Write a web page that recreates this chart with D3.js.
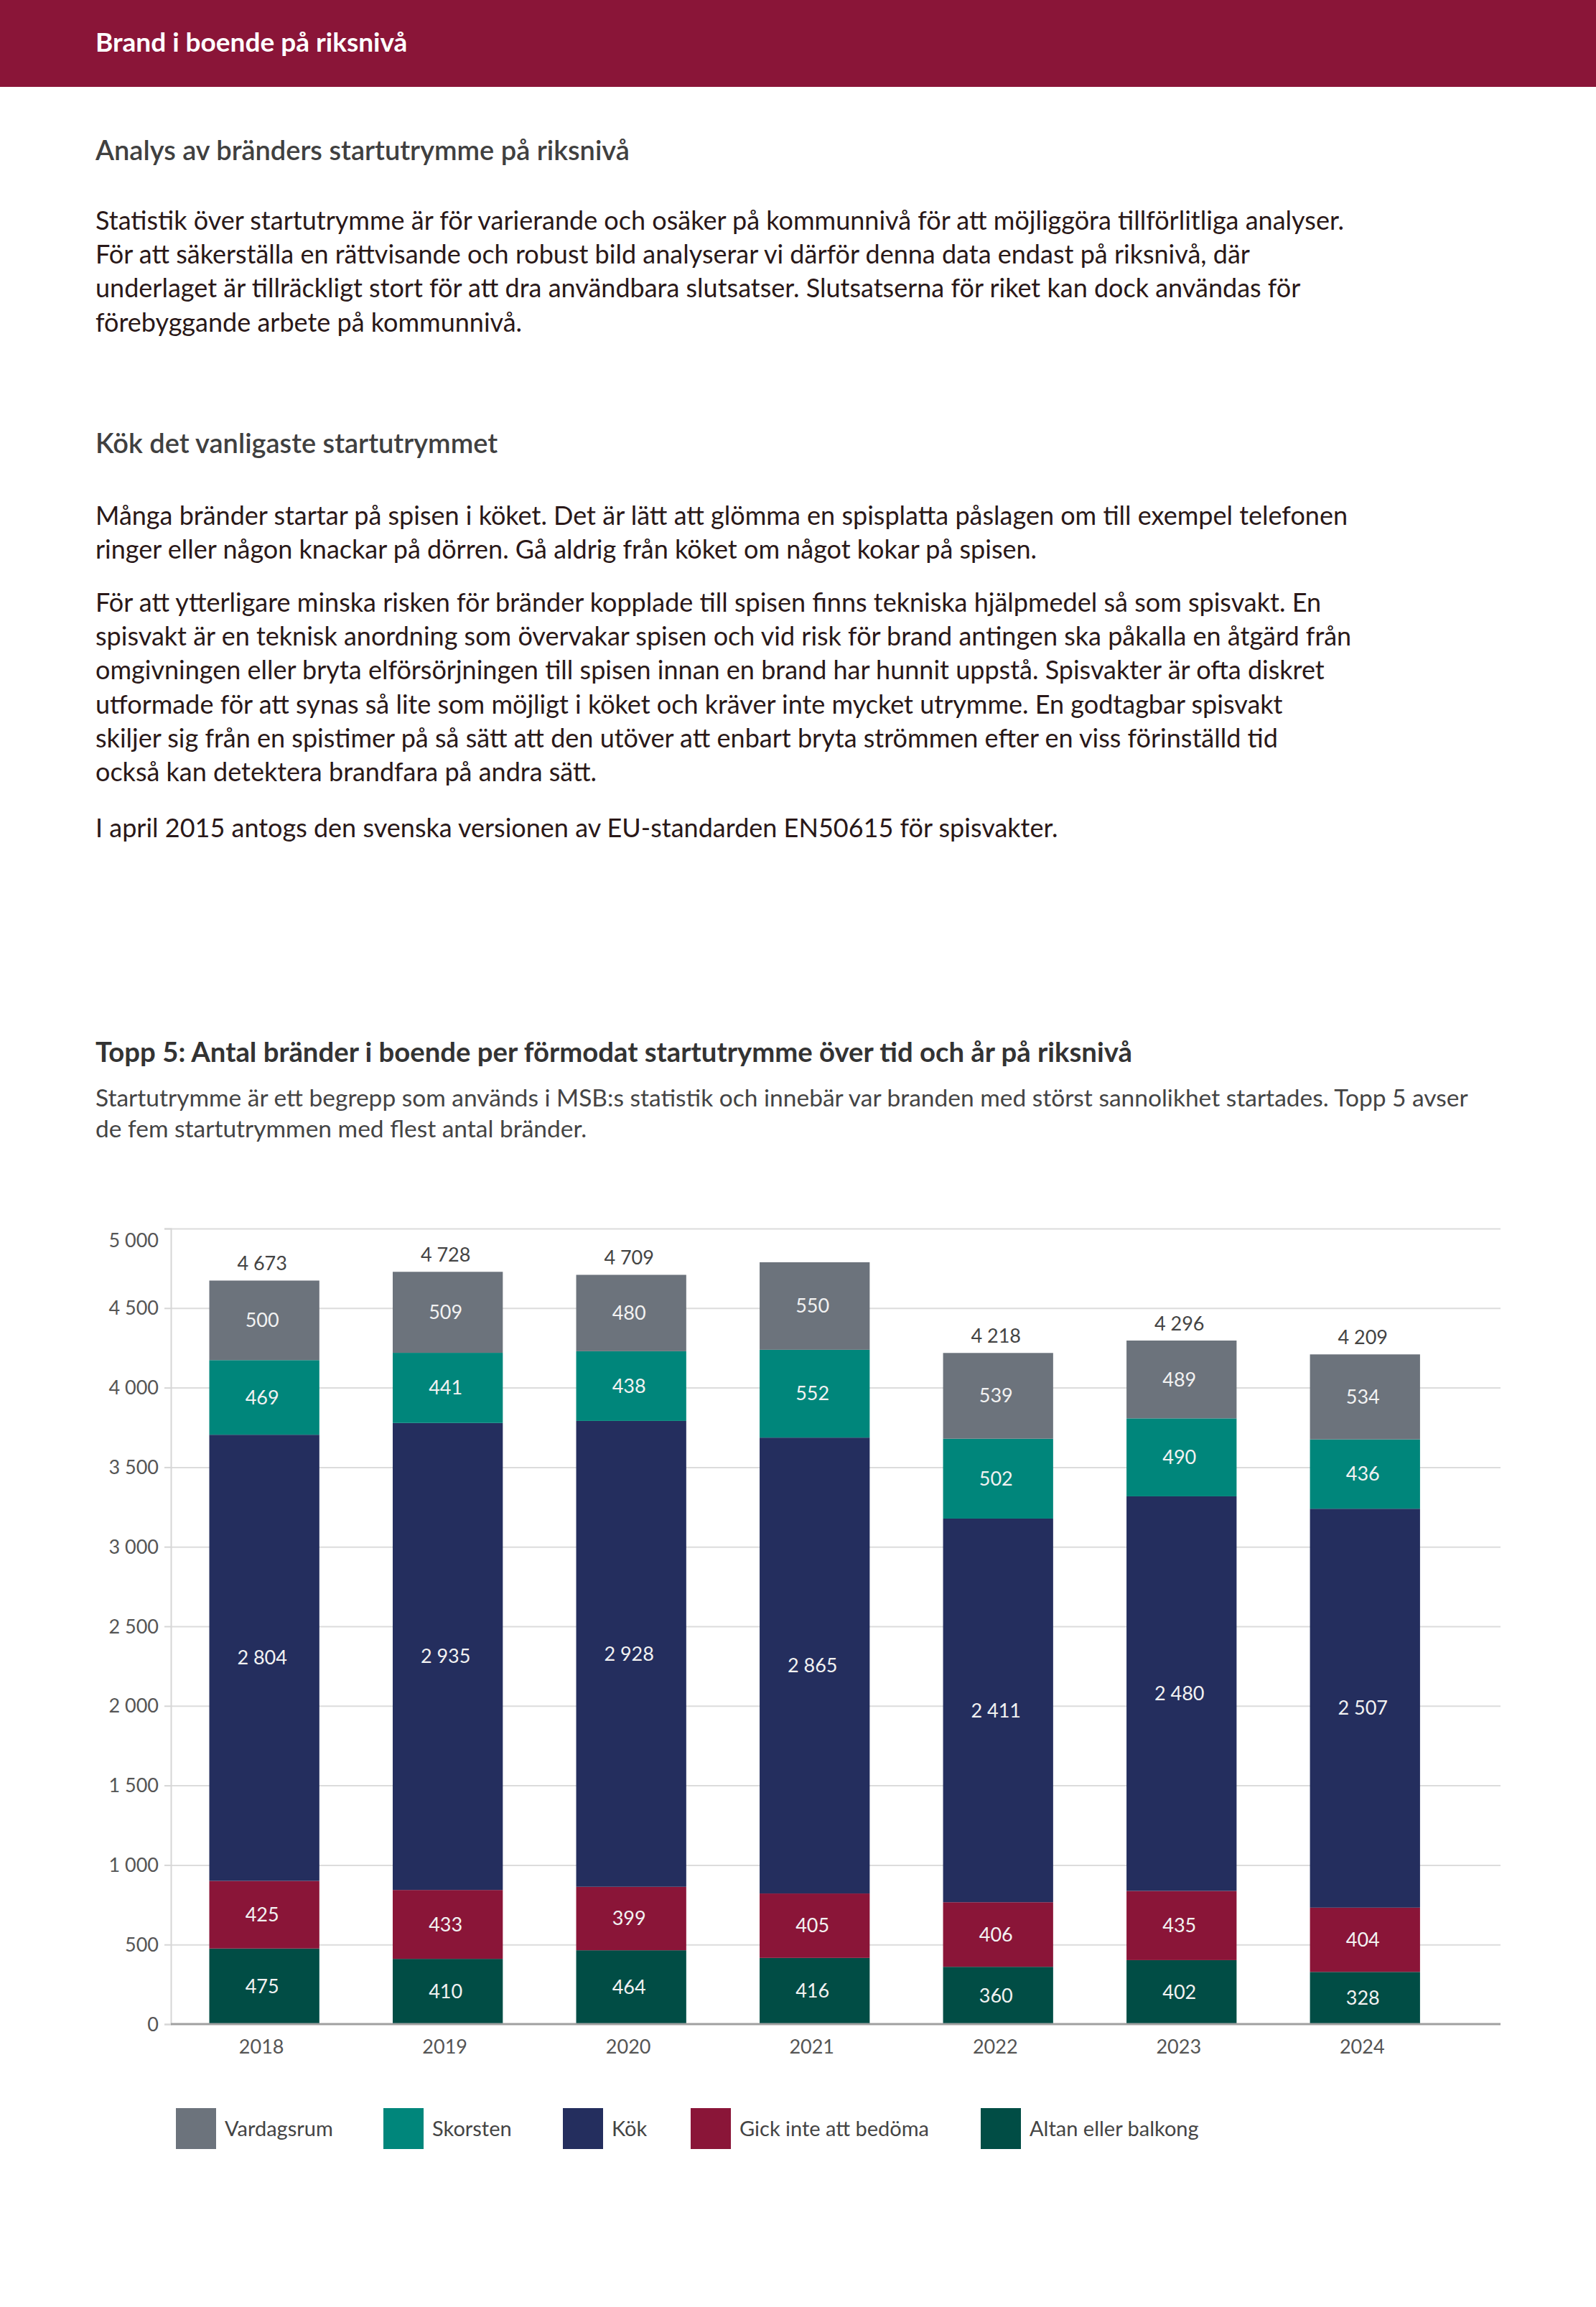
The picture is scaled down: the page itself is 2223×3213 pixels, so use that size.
<!DOCTYPE html>
<html lang="sv">
<head>
<meta charset="UTF-8">
<title>Brand i boende på riksnivå</title>
<script src="https://d3js.org/d3.v7.min.js"></script>
<style>
    html, body { margin: 0; padding: 0; background: #fff; }
    svg { display: block; font-family: Lato, "Noto Sans", sans-serif; }
</style>
</head>
<body>
<svg id="page" width="2223" height="3213"></svg>
<script>
    // Data
    const years = ["2018", "2019", "2020", "2021", "2022", "2023", "2024"];
    const altan = [475, 410, 464, 416, 360, 402, 328];
    const gick = [425, 433, 399, 405, 406, 435, 404];
    const kok = [2804, 2935, 2928, 2865, 2411, 2480, 2507];
    const skorsten = [469, 441, 438, 552, 502, 490, 436];
    const vardagsrum = [500, 509, 480, 550, 539, 489, 534];
    const totalLabels = [4673, 4728, 4709, null, 4218, 4296, 4209]; // 2021 has no total in the source
    const yTicks = [0, 500, 1000, 1500, 2000, 2500, 3000, 3500, 4000, 4500, 5000];

    // stacking order bottom -> top
    const keys = ["Altan eller balkong", "Gick inte att bedöma", "Kök", "Skorsten", "Vardagsrum"];
    const seriesValues = [altan, gick, kok, skorsten, vardagsrum];
    const colors = ["#014d45", "#8a1538", "#242e5e", "#00867b", "#6c737c"];
    const legendOrder = ["Vardagsrum", "Skorsten", "Kök", "Gick inte att bedöma", "Altan eller balkong"];

    const headerTitle = "Brand i boende på riksnivå";
    const heading1 = "Analys av bränders startutrymme på riksnivå";
    const para1 = [
        "Statistik över startutrymme är för varierande och osäker på kommunnivå för att möjliggöra tillförlitliga analyser.",
        "För att säkerställa en rättvisande och robust bild analyserar vi därför denna data endast på riksnivå, där",
        "underlaget är tillräckligt stort för att dra användbara slutsatser. Slutsatserna för riket kan dock användas för",
        "förebyggande arbete på kommunnivå."
    ];
    const heading2 = "Kök det vanligaste startutrymmet";
    const para2 = [
        "Många bränder startar på spisen i köket. Det är lätt att glömma en spisplatta påslagen om till exempel telefonen",
        "ringer eller någon knackar på dörren. Gå aldrig från köket om något kokar på spisen."
    ];
    const para3 = [
        "För att ytterligare minska risken för bränder kopplade till spisen finns tekniska hjälpmedel så som spisvakt. En",
        "spisvakt är en teknisk anordning som övervakar spisen och vid risk för brand antingen ska påkalla en åtgärd från",
        "omgivningen eller bryta elförsörjningen till spisen innan en brand har hunnit uppstå. Spisvakter är ofta diskret",
        "utformade för att synas så lite som möjligt i köket och kräver inte mycket utrymme. En godtagbar spisvakt",
        "skiljer sig från en spistimer på så sätt att den utöver att enbart bryta strömmen efter en viss förinställd tid",
        "också kan detektera brandfara på andra sätt."
    ];
    const para4 = ["I april 2015 antogs den svenska versionen av EU-standarden EN50615 för spisvakter."];
    const chartTitle = "Topp 5: Antal bränder i boende per förmodat startutrymme över tid och år på riksnivå";
    const chartSub = [
        "Startutrymme är ett begrepp som används i MSB:s statistik och innebär var branden med störst sannolikhet startades. Topp 5 avser",
        "de fem startutrymmen med flest antal bränder."
    ];

    const svg = d3.select("#page");
    const left = 133;

    // Header band
    svg.append("rect").attr("x", 0).attr("y", 0).attr("width", 2223).attr("height", 121).attr("fill", "#8a1538");
    svg.append("text").attr("x", left).attr("y", 72)
        .attr("font-size", 37).attr("font-weight", "bold").attr("fill", "#fff")
        .text(headerTitle);

    function heading(txt, y) {
        svg.append("text").attr("x", left).attr("y", y)
            .attr("font-size", 38).attr("font-weight", 600).attr("fill", "#404040")
            .text(txt);
    }

    function paragraph(lines, y0, size, color) {
        svg.append("g").selectAll("text")
            .data(lines)
            .join("text")
            .attr("x", left)
            .attr("y", (d, i) => y0 + i * 47.2)
            .attr("font-size", size)
            .attr("fill", color)
            .text(d => d);
    }

    heading(heading1, 223);
    paragraph(para1, 320, 36, "#2a1818");
    heading(heading2, 631);
    paragraph(para2, 731, 36, "#2a1818");
    paragraph(para3, 852, 36, "#2a1818");
    paragraph(para4, 1166, 36, "#2a1818");

    svg.append("text").attr("x", left).attr("y", 1479)
        .attr("font-size", 38.3).attr("font-weight", "bold").attr("fill", "#333")
        .text(chartTitle);
    svg.append("g").selectAll("text")
        .data(chartSub)
        .join("text")
        .attr("x", left)
        .attr("y", (d, i) => 1541 + i * 43)
        .attr("font-size", 33.5)
        .attr("fill", "#444")
        .text(d => d);

    // ---- Chart ----
    const plotLeft = 238, plotRight = 2090, plotTop = 1711, plotBottom = 2819;
    const fmt = d3.formatLocale({ decimal: ",", thousands: " ", grouping: [3], currency: ["", " kr"] }).format(",d");

    const rows = years.map((yr, i) => {
        const r = { year: yr };
        keys.forEach((k, j) => r[k] = seriesValues[j][i]);
        return r;
    });
    const stacked = d3.stack().keys(keys)(rows);

    const x = d3.scaleBand()
        .domain(years)
        .range([240.4, 2029])
        .paddingInner(0.4)
        .paddingOuter(0.2);
    const y = d3.scaleLinear().domain([0, 5000]).range([plotBottom, plotTop]);

    // gridlines
    svg.append("g")
        .attr("transform", `translate(${plotLeft},0)`)
        .call(d3.axisLeft(y).tickValues(yTicks.slice(1)).tickSize(-(plotRight - plotLeft)).tickFormat(""))
        .call(g => g.select(".domain").remove())
        .call(g => g.selectAll("line").attr("stroke", "#dcdcdc").attr("stroke-width", 2));

    // y axis with labels
    svg.append("g")
        .attr("transform", `translate(${plotLeft},0)`)
        .call(d3.axisLeft(y).tickValues(yTicks).tickSize(9).tickPadding(8).tickFormat(fmt))
        .call(g => g.select(".domain").attr("stroke", "#d6d6d6").attr("stroke-width", 2))
        .call(g => g.selectAll(".tick line").attr("stroke", "#d6d6d6").attr("stroke-width", 2))
        .call(g => g.selectAll("text")
            .attr("font-family", "Lato, sans-serif")
            .attr("font-size", 27)
            .attr("fill", "#555")
            .attr("dy", d => d === 5000 ? "0.95em" : "0.34em"));

    // bars
    const layers = svg.append("g").selectAll("g")
        .data(stacked)
        .join("g")
        .attr("fill", (d, i) => colors[i]);

    layers.selectAll("rect")
        .data(d => d)
        .join("rect")
        .attr("x", d => x(d.data.year))
        .attr("y", d => y(d[1]))
        .attr("width", x.bandwidth())
        .attr("height", d => y(d[0]) - y(d[1]));

    // segment labels
    layers.selectAll("text")
        .data(d => d.map(v => ({ v, key: d.key })))
        .join("text")
        .attr("x", d => x(d.v.data.year) + x.bandwidth() / 2 - 3)
        .attr("y", d => y((d.v[0] + d.v[1]) / 2))
        .attr("dy", "0.35em")
        .attr("text-anchor", "middle")
        .attr("font-size", 27)
        .attr("fill", "#f2f2f2")
        .text(d => fmt(d.v[1] - d.v[0]));

    // totals
    const topLayer = stacked[stacked.length - 1];
    svg.append("g").selectAll("text")
        .data(years.map((yr, i) => ({ yr, total: totalLabels[i], top: topLayer[i][1] })).filter(d => d.total !== null))
        .join("text")
        .attr("x", d => x(d.yr) + x.bandwidth() / 2 - 3)
        .attr("y", d => y(d.top) - 14)
        .attr("text-anchor", "middle")
        .attr("font-size", 27)
        .attr("fill", "#444")
        .text(d => fmt(d.total));

    // x axis
    svg.append("g")
        .attr("transform", `translate(-4,${plotBottom})`)
        .call(d3.axisBottom(x).tickSize(0).tickPadding(22))
        .call(g => g.select(".domain").remove())
        .call(g => g.selectAll("text").attr("font-family", "Lato, sans-serif").attr("font-size", 27).attr("fill", "#555"));
    svg.append("line")
        .attr("x1", plotLeft).attr("x2", plotRight)
        .attr("y1", plotBottom).attr("y2", plotBottom)
        .attr("stroke", "#a0a0a0").attr("stroke-width", 3);

    // legend (item x positions follow the source layout)
    const legendX = [245, 534, 784, 962, 1366];
    const legend = svg.append("g").attr("transform", "translate(0,2936)");
    legendOrder.forEach((name, i) => {
        const c = colors[keys.indexOf(name)];
        const item = legend.append("g").attr("transform", `translate(${legendX[i]},0)`);
        item.append("rect").attr("width", 56).attr("height", 57).attr("fill", c);
        item.append("text").attr("x", 68).attr("y", 29).attr("dy", "0.35em")
            .attr("font-size", 29).attr("fill", "#444").text(name);
    });
</script>
</body>
</html>
